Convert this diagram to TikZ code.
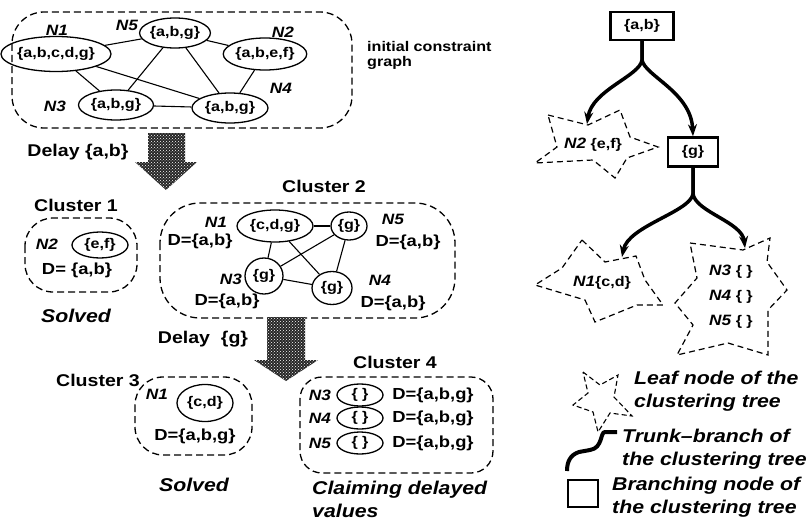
\documentclass[tikz,border=0pt]{standalone}
\usepackage{fontspec}
\setmainfont{Liberation Sans}[FakeStretch=1.15]
\usetikzlibrary{shapes.geometric,arrows.meta,patterns}
\newcommand\ndf{\fontsize{14}{16}\selectfont\bfseries}
\newcommand\lbf{\fontsize{17}{19}\selectfont\bfseries}
\newcommand\nlf{\fontsize{15}{17}\selectfont\bfseries\itshape}
\newcommand\itf{\fontsize{18.5}{23}\selectfont\bfseries\itshape}
\newcommand\dff{\fontsize{16}{18}\selectfont\bfseries}
\newcommand\icf{\fontsize{14}{15}\selectfont\bfseries}
\begin{document}
\begin{tikzpicture}[x=1pt,y=-1pt,
  el/.style={ellipse,draw,line width=1.3pt,inner sep=0pt,font=\ndf},
  blob/.style={draw,line width=1.3pt,dash pattern=on 7pt off 4pt},
  starline/.style={draw,line width=1.2pt,dash pattern=on 6pt off 4pt},
  lbl/.style={inner sep=0pt,font=\lbf},
  nl/.style={inner sep=0pt,font=\nlf},
  dl/.style={inner sep=0pt,font=\dff},
  itl/.style={inner sep=0pt,font=\itf},
  bx/.style={draw,line width=2.5pt,inner sep=0pt,font=\ndf},
  trunk/.style={line width=3.5pt,-{Stealth[length=12pt,width=9pt]}},
  edge/.style={line width=1.1pt},
  bigarrow/.style={fill=black!85}
]
\useasboundingbox (0,0) rectangle (810,527);

% ---------- initial constraint graph ----------
\draw[blob,rounded corners=32pt] (12,12) rectangle (352,128);
\node[el,minimum width=82pt,minimum height=35pt] (a1) at (56,54) {\{a,b,c,d,g\}};
\node[el,minimum width=66pt,minimum height=30pt] (a5) at (175,33) {\{a,b,g\}};
\node[el,minimum width=76pt,minimum height=32pt] (a2) at (265,54) {\{a,b,e,f\}};
\node[el,minimum width=75pt,minimum height=30pt] (a3) at (116,105) {\{a,b,g\}};
\node[el,minimum width=76pt,minimum height=30pt] (a4) at (230,108) {\{a,b,g\}};
\node[nl] (la1) at (57,30) {N1};
\node[nl] (la5) at (127,25) {N5};
\node[nl] (la2) at (283,32) {N2};
\node[nl] (la3) at (55,106) {N3};
\node[nl] (la4) at (281,88) {N4};
\draw[edge] (a1) -- (a5);
\draw[edge] (a5) -- (a2);
\draw[edge] (a1) -- (a3);
\draw[edge] (a1) -- (a4);
\draw[edge] (a5) -- (a3);
\draw[edge] (a5) -- (a4);
\draw[edge] (a3) -- (a4);
\draw[edge] (a2) -- (a4);
\node[inner sep=0pt,font=\icf,align=left,anchor=north west] (icg) at (367,41) {initial constraint\\graph};

% ---------- arrow 1 ----------
\fill[bigarrow] (148,133) -- (185,133) -- (185,162) -- (197,162) -- (166,190) -- (135,162) -- (148,162) -- cycle;
\fill[pattern=crosshatch dots,pattern color=white] (148,133) -- (185,133) -- (185,162) -- (197,162) -- (166,190) -- (135,162) -- (148,162) -- cycle;
\node[lbl] (d1) at (78,152) {Delay \{a,b\}};

% ---------- cluster 1 ----------
\node[lbl] (c1l) at (76,205) {Cluster 1};
\draw[blob,rounded corners=28pt] (25,218) rectangle (137,292);
\node[nl] (lc1) at (47,244) {N2};
\node[el,minimum width=56pt,minimum height=26pt] (c1e) at (100,245) {\{e,f\}};
\node[dl] (c1d) at (77,270) {D= \{a,b\}};
\node[itl] (sv1) at (76,316) {Solved};

% ---------- cluster 2 ----------
\node[lbl] (c2l) at (324,186) {Cluster 2};
\draw[blob,rounded corners=40pt] (160,203) rectangle (455,318);
\node[el,minimum width=76pt,minimum height=32pt] (b1) at (275,226) {\{c,d,g\}};
\node[el,minimum width=36pt,minimum height=28pt] (b5) at (349,226) {\{g\}};
\node[el,minimum width=38pt,minimum height=36pt] (b3) at (264,276) {\{g\}};
\node[el,minimum width=40pt,minimum height=33pt] (b4) at (332,288) {\{g\}};
\node[nl] (lb1) at (216,222) {N1};
\node[nl] (lb5) at (393,219) {N5};
\node[nl] (lb3) at (231,279) {N3};
\node[nl] (lb4) at (380,280) {N4};
\node[dl] (db1) at (200,241) {D=\{a,b\}};
\node[dl] (db5) at (408,242) {D=\{a,b\}};
\node[dl] (db3) at (227,301) {D=\{a,b\}};
\node[dl] (db4) at (393,303) {D=\{a,b\}};
\draw[edge] (b1) -- (b5);
\draw[edge] (b1) -- (b3);
\draw[edge] (b1) -- (b4);
\draw[edge] (b5) -- (b3);
\draw[edge] (b5) -- (b4);
\draw[edge] (b3) -- (b4);

% ---------- arrow 2 ----------
\fill[bigarrow] (267,317) -- (305,317) -- (305,360) -- (318,360) -- (286,381) -- (254,360) -- (267,360) -- cycle;
\fill[pattern=crosshatch dots,pattern color=white] (267,317) -- (305,317) -- (305,360) -- (318,360) -- (286,381) -- (254,360) -- (267,360) -- cycle;
\node[lbl] (d2) at (203,339) {Delay \ \{g\}};

% ---------- cluster 3 ----------
\node[lbl] (c3l) at (98,380) {Cluster 3};
\draw[blob,rounded corners=28pt] (135,377) rectangle (252,455);
\node[nl] (lc3) at (157,394) {N1};
\node[el,minimum width=56pt,minimum height=37pt] (c3e) at (205,403) {\{c,d\}};
\node[dl] (c3d) at (195,436) {D=\{a,b,g\}};
\node[itl] (sv3) at (194,485) {Solved};

% ---------- cluster 4 ----------
\node[lbl] (c4l) at (395,362) {Cluster 4};
\draw[blob,rounded corners=22pt] (300,377) rectangle (493,473);
\foreach \n/\yy in {3/395,4/418,5/443}{
  \node[nl] (l4\n) at (320,\yy) {N\n};
  \node[el,minimum width=46pt,minimum height=22pt] (e4\n) at (360,\yy) {\{ \}};
  \node[dl] (d4\n) at (433,\yy) {D=\{a,b,g\}};
}
\node[itl,align=left,anchor=north west] (clm) at (312,481) {Claiming delayed\\values};

% ---------- clustering tree ----------
\node[bx,minimum width=63pt,minimum height=28pt] (t1) at (642,26) {\{a,b\}};
\node[bx,minimum width=50pt,minimum height=29pt] (t2) at (693,152) {\{g\}};
\coordinate (f1) at (642,60);
\coordinate (f2) at (693,194);
\coordinate (n2tip) at (587,124);
\coordinate (n1tip) at (622,257);
\coordinate (n3tip) at (745,248);
\draw[trunk] (t1.south) -- (f1) .. controls (640,76) and (592,90) .. (n2tip);
\draw[trunk] (t1.south) -- (f1) .. controls (645,76) and (691,92) .. (t2.north);
\draw[trunk] (t2.south) -- (f2) .. controls (690,212) and (628,226) .. (n1tip);
\draw[trunk] (t2.south) -- (f2) .. controls (696,212) and (742,222) .. (n3tip);

% stars
\draw[starline] (548,115) -- (588,125) -- (620,110) -- (630,137) -- (658,147) -- (627,158) -- (615,178) -- (593,160) -- (535,163) -- (557,147) -- cycle;
\node[inner sep=0pt,font=\ndf] (s2) at (593,145) {{\nlf N2} \{e,f\}};
\draw[starline] (582,240) -- (605,262) -- (636,256) -- (645,280) -- (663,305) -- (637,305) -- (595,322) -- (585,300) -- (535,285) -- (562,268) -- cycle;
\node[inner sep=0pt,font=\ndf] (s1) at (602,283) {{\nlf N1}\{c,d\}};
\draw[starline] (690,243) -- (743,250) -- (770,238) -- (767,262) -- (787,290) -- (768,310) -- (768,355) -- (728,343) -- (677,355) -- (693,325) -- (675,303) -- (697,278) -- cycle;
\node[inner sep=0pt,font=\ndf] (s3) at (731,272) {{\nlf N3} \{ \}};
\node[inner sep=0pt,font=\ndf] (s4) at (731,297) {{\nlf N4} \{ \}};
\node[inner sep=0pt,font=\ndf] (s5) at (731,322) {{\nlf N5} \{ \}};

% legend
\draw[starline,line width=1.1pt,dash pattern=on 5pt off 3pt] (583,372) -- (600,385) -- (618,375) -- (614,397) -- (632,416) -- (610,413) -- (598,432) -- (593,412) -- (573,405) -- (588,393) -- cycle;
\node[itl,align=left,anchor=north west] (lg1) at (634,371) {Leaf node of the\\clustering tree};
\draw[line width=4pt] (617,432) -- (605,432) .. controls (600,432) and (603,448) .. (590,450) -- (579,452) .. controls (570,455) and (567,462) .. (567,471);
\node[itl,align=left,anchor=north west] (lg2) at (622,429) {Trunk--branch of\\the clustering tree};
\draw[line width=2.5pt] (568,480) rectangle (598,507);
\node[itl,align=left,anchor=north west] (lg3) at (612,477) {Branching node of\\the clustering tree};
\end{tikzpicture}
\end{document}
